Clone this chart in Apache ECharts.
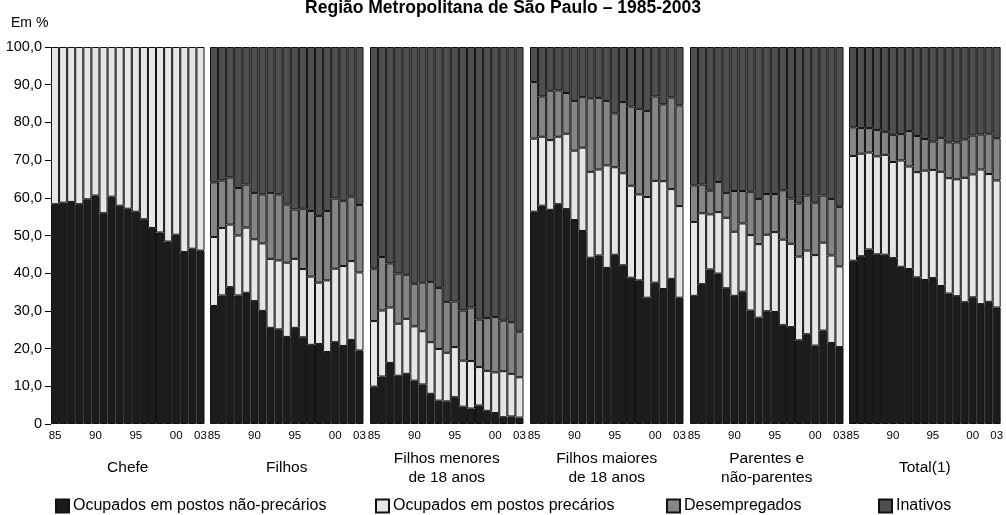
<!DOCTYPE html>
<html>
<head>
<meta charset="utf-8">
<script src="https://cdn.jsdelivr.net/npm/echarts@6/dist/echarts.min.js"></script>
<style>
html,body{margin:0;padding:0;background:#fff;}
#chart{width:1006px;height:515px;}
</style>
</head>
<body>
<div id="chart"></div>
<script>
// ---- Data ----
const years = ['85','86','87','88','89','90','91','92','93','94','95','96','97','98','99','00','01','02','03'];
const panelNames = ['Chefe', 'Filhos', 'Filhos menores\nde 18 anos', 'Filhos maiores\nde 18 anos', 'Parentes e\nnão-parentes', 'Total(1)'];
const seriesNames = ['Ocupados em postos não-precários', 'Ocupados em postos precários', 'Desempregados', 'Inativos'];
const yTicks = [0, 10, 20, 30, 40, 50, 60, 70, 80, 90, 100];

// values per panel (Chefe, Filhos, Filhos <18, Filhos >18, Parentes, Total)
const naoPrecarios = [
  [58.3,58.7,58.9,58.3,59.6,60.6,55.9,60.3,57.9,57.1,56.3,54.3,52.0,50.8,48.4,50.2,45.6,46.5,46.0],
  [31.3,34.1,36.3,34.1,34.8,32.6,30.0,25.5,25.1,23.1,25.5,23.0,21.0,21.2,19.1,21.7,20.7,22.3,19.5],
  [9.9,12.6,16.2,12.8,13.3,11.5,10.5,8.0,6.2,6.0,7.1,4.6,4.1,4.9,3.5,2.9,1.8,2.0,1.7],
  [56.3,57.9,56.8,58.3,57.0,54.1,51.2,44.1,44.7,41.4,44.9,42.1,38.8,38.1,33.5,37.5,35.8,38.5,33.5],
  [34.0,37.1,41.0,39.9,36.0,34.0,35.1,30.1,28.2,29.9,29.7,26.2,25.7,22.2,23.8,20.8,24.8,21.5,20.4],
  [43.3,44.5,46.3,45.0,44.9,44.0,41.7,41.1,38.9,38.2,38.7,36.6,34.6,33.9,32.3,33.6,31.8,32.4,30.9]
];
const precarios = [
  [41.7,41.3,41.1,41.7,40.4,39.4,44.1,39.7,42.1,42.9,43.7,45.7,48.0,49.2,51.6,49.8,54.4,53.5,54.0],
  [18.3,17.9,16.6,15.9,17.3,16.4,17.9,18.3,18.3,19.7,18.3,18.1,18.1,16.3,19.0,19.5,21.2,20.9,20.7],
  [17.4,17.5,14.7,13.8,14.6,14.4,14.1,13.7,13.7,12.9,13.3,12.2,12.6,10.2,10.6,10.8,12.2,11.3,10.7],
  [19.4,18.3,18.5,17.9,20.0,18.4,22.1,22.8,22.8,27.2,23.2,24.4,24.4,22.8,26.7,27.0,28.6,23.8,24.3],
  [19.6,18.8,14.6,16.3,18.7,17.0,18.1,20.0,19.5,20.3,21.2,22.7,22.1,22.2,22.2,24.0,23.3,23.2,21.4],
  [27.8,27.2,25.7,26.0,26.5,25.5,28.2,27.2,27.9,29.0,28.7,30.3,30.6,31.0,33.0,32.6,35.7,33.9,33.7]
];
const desempregados = [
  [],
  [14.5,12.6,12.5,12.6,11.4,12.3,13.0,17.5,17.5,15.4,13.1,16.0,17.4,17.7,18.4,18.6,17.3,17.1,17.9],
  [13.9,14.2,11.7,13.3,11.7,11.3,12.9,16.0,16.2,13.5,12.1,13.3,14.2,12.6,14.0,14.7,13.4,13.7,12.1],
  [15.0,10.7,13.1,12.3,10.8,13.2,13.4,19.5,19.0,17.1,14.3,18.9,21.0,22.7,22.8,22.4,20.4,24.3,26.7],
  [9.7,7.6,6.3,8.0,6.6,10.8,8.6,11.5,12.0,10.8,10.1,13.1,12.0,14.1,14.6,13.9,12.5,15.0,15.8],
  [7.6,6.8,6.5,7.0,6.1,7.2,7.0,9.4,9.6,8.4,7.5,9.0,9.5,9.8,10.2,10.3,9.3,10.7,11.2]
];
const inativos = [
  [],
  [35.9,35.4,34.6,37.4,36.5,38.7,39.1,38.7,39.1,41.8,43.1,42.9,43.5,44.8,43.5,40.2,40.8,39.7,41.9],
  [58.8,55.7,57.4,60.1,60.4,62.8,62.5,62.3,63.9,67.6,67.5,69.9,69.1,72.3,71.9,71.6,72.6,73.0,75.5],
  [9.3,13.1,11.6,11.5,12.2,14.3,13.3,13.6,13.5,14.3,17.6,14.6,15.8,16.4,17.0,13.1,15.2,13.4,15.5],
  [36.7,36.5,38.1,35.8,38.7,38.2,38.2,38.4,40.3,39.0,39.0,38.0,40.2,41.5,39.4,41.3,39.4,40.3,42.4],
  [21.3,21.5,21.5,22.0,22.5,23.3,23.1,22.3,23.6,24.4,25.1,24.1,25.3,25.3,24.5,23.5,23.2,23.0,24.2]
];
const labelIdx = [0, 5, 10, 15, 18];

// ---- Styles ----
const colors = ['#1c1c1c', '#e6e6e6', '#858585', '#4f4f4f'];
const FONT = '"Liberation Sans", Arial, Helvetica, sans-serif';
const panelLeft = [51, 210, 370, 530, 690, 849];
const panelWidth = 153.5;
const gridTop = 47, gridHeight = 377;

const grids = [], xAxes = [], yAxes = [], series = [];
const allData = [naoPrecarios, precarios, desempregados, inativos];

panelNames.forEach((pn, p) => {
  grids.push({ left: panelLeft[p], width: panelWidth, top: gridTop, height: gridHeight, containLabel: false });
  xAxes.push({
    type: 'category', gridIndex: p, data: years,
    axisLine: { show: false }, axisTick: { show: false },
    axisLabel: {
      interval: (i) => labelIdx.includes(i), color: '#000', fontSize: 11.5, fontFamily: FONT, margin: 6
    },
    name: pn, nameLocation: 'middle', nameGap: 44,
    nameTextStyle: { color: '#000', fontSize: 15.5, fontFamily: FONT, lineHeight: 19, verticalAlign: 'middle', align: 'center' }
  });
  yAxes.push({
    type: 'value', gridIndex: p, min: 0, max: 100, interval: 10,
    splitLine: { show: false },
    axisLine: { show: false },
    axisTick: { show: p === 0, length: 6, lineStyle: { color: '#000', width: 1 } },
    axisLabel: {
      show: p === 0, color: '#000', fontSize: 14.5, fontFamily: FONT, margin: 9,
      formatter: (v) => v === 0 ? '0' : v.toFixed(1).replace('.', ',')
    }
  });
  allData.forEach((arr, s) => {
    series.push({
      type: 'bar', name: seriesNames[s], xAxisIndex: p, yAxisIndex: p,
      stack: 'panel' + p, data: arr[p], barCategoryGap: '0%',
      itemStyle: { color: colors[s], borderColor: '#111', borderWidth: 1 },
      emphasis: { disabled: true }, animation: false
    });
  });
});

const legendLeft = [55, 375, 666, 878];
const legends = seriesNames.map((n, i) => ({
  data: [n], left: legendLeft[i], top: 498, padding: 0,
  icon: 'rect', itemWidth: 13, itemHeight: 13, itemGap: 0,
  selectedMode: false,
  textStyle: { color: '#000', fontSize: 16, fontFamily: FONT, padding: [0, 0, 0, -1] }
}));

const chart = echarts.init(document.getElementById('chart'), null, { renderer: 'canvas' });
chart.setOption({
  backgroundColor: '#fff',
  animation: false,
  title: [
    { text: 'Região Metropolitana de São Paulo – 1985-2003', left: 'center', top: -6,
      textStyle: { fontSize: 17.5, fontWeight: 'bold', color: '#000', fontFamily: FONT } },
    { text: 'Em %', left: 6, top: 11,
      textStyle: { fontSize: 14, fontWeight: 'normal', color: '#000', fontFamily: FONT } }
  ],
  legend: legends,
  grid: grids, xAxis: xAxes, yAxis: yAxes, series: series
});
</script>
</body>
</html>
